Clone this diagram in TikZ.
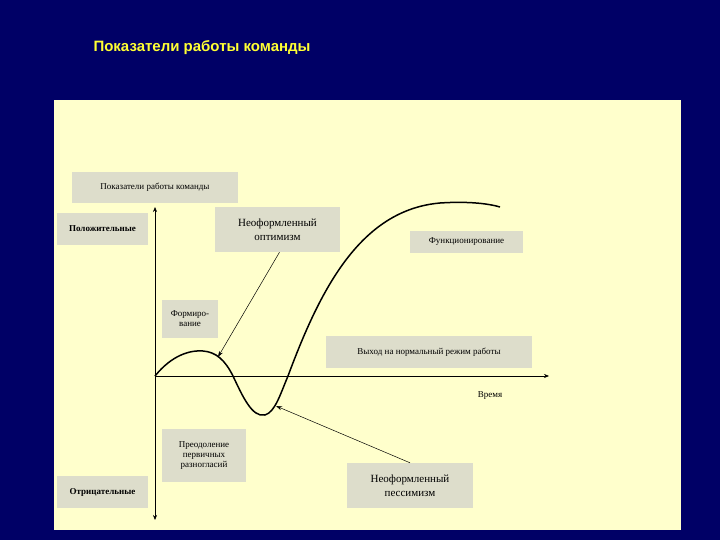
\documentclass[tikz,border=0pt]{standalone}
\usepackage{fontspec}
\setmainfont{Liberation Serif}
\newfontfamily\titlefont{Liberation Sans}
\usetikzlibrary{arrows.meta}
\definecolor{navy}{HTML}{000066}
\definecolor{panel}{HTML}{FFFFCC}
\definecolor{boxg}{HTML}{DDDDCB}
\definecolor{ttl}{HTML}{FFFF33}
\begin{document}
\begin{tikzpicture}[x=1pt,y=-1pt,
  lbl/.style={fill=boxg,inner sep=0pt,align=center,font=\fontsize{9}{10}\selectfont},
  ax/.style={line width=0.6pt},
  ptr/.style={line width=0.5pt,-{Stealth[length=6pt,width=4pt]}}]
\fill[navy] (0,0) rectangle (720,540);
\useasboundingbox (0,0) rectangle (720,540);
\fill[panel] (54,100) rectangle (681,530);
\node[anchor=west,text=ttl,font=\titlefont\bfseries\fontsize{15}{18}\selectfont] (title) at (90,48) {Показатели работы команды};
\node[lbl,minimum width=166,minimum height=31] (hdr) at (155,187.5) {Показатели работы команды};
\node[lbl,minimum width=91,minimum height=32,font=\bfseries\fontsize{9}{10}\selectfont] (pos) at (102.5,229) {Положительные};
\node[lbl,minimum width=91,minimum height=32,font=\bfseries\fontsize{9}{10}\selectfont] (neg) at (102.5,492) {Отрицательные};
\node[lbl,minimum width=56,minimum height=38] (form) at (190,319) {Формиро-\\вание};
\node[lbl,minimum width=125,minimum height=45,font=\fontsize{11}{14}\selectfont] (opt) at (277.5,229.5) {Неоформленный\\оптимизм};
\node[lbl,minimum width=113,minimum height=22] (func) at (466.5,242) {Функционирование};
\node[lbl,minimum width=206,minimum height=32] (norm) at (429,352) {Выход на нормальный режим работы};
\node[lbl,minimum width=84,minimum height=53] (over) at (204,455.5) {Преодоление\\первичных\\разногласий};
\node[lbl,minimum width=126,minimum height=45,font=\fontsize{11}{14}\selectfont] (pes) at (410,485.5) {Неоформленный\\пессимизм};
\node[font=\fontsize{9}{10}\selectfont] (time) at (490,396) {Время};
\coordinate (o) at (155,376);
\coordinate (ytop) at (155,207);
\coordinate (ybot) at (155,520);
\coordinate (xend) at (549,376);
\draw[ax,{Stealth[length=5pt,width=4pt]}-{Stealth[length=5pt,width=4pt]}] (ybot) -- (ytop);
\draw[ax,-{Stealth[length=5pt,width=4pt]}] (o) -- (xend);
\coordinate (c1) at (218,357);
\coordinate (c2) at (276,406);
\draw[line width=1.5pt] (o) .. controls (172,355) and (190,350) .. (203,351)
  .. controls (216,352) and (225,360) .. (233,376)
  .. controls (242,395) and (252,418) .. (265,415)
  .. controls (275,412) and (280,395) .. (288,376)
  .. controls (320,290) and (360,210) .. (440,203)
  .. controls (470,201) and (490,204) .. (500,207);
\draw[ptr] (opt.south) ++(2,0) -- (c1);
\draw[ptr] (pes.north) -- (c2);
\end{tikzpicture}
\end{document}
